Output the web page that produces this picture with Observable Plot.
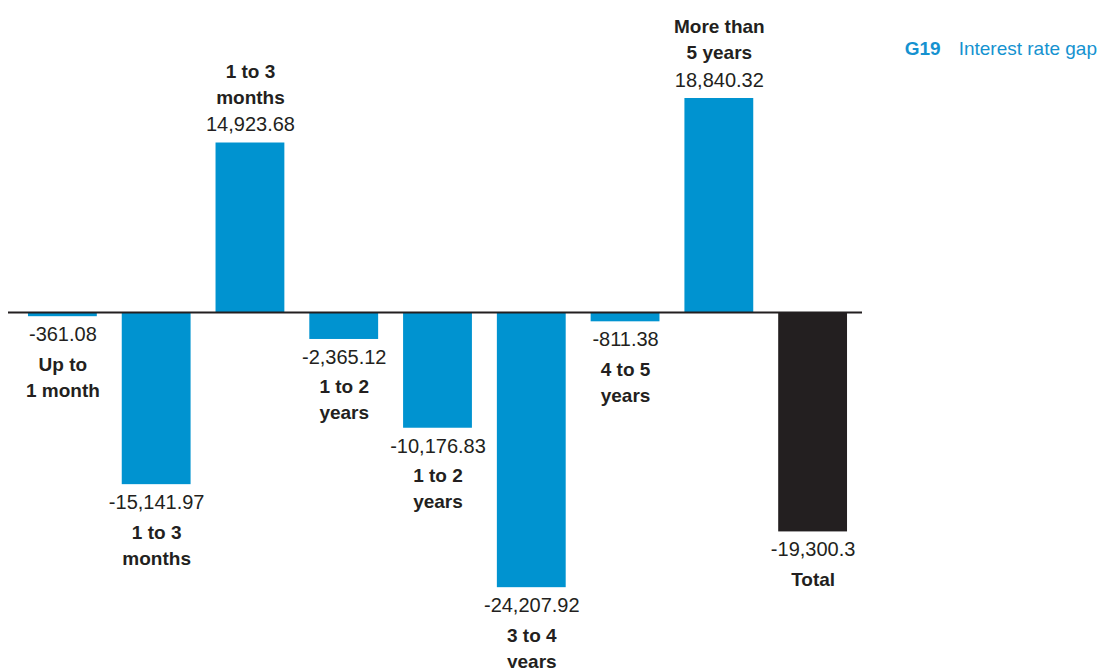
<!DOCTYPE html>
<html>
<head>
<meta charset="utf-8">
<script src="https://cdn.jsdelivr.net/npm/d3@7"></script>
<script src="https://cdn.jsdelivr.net/npm/@observablehq/plot@0.6"></script>
<style>
  html, body { margin: 0; padding: 0; background: #fff; }
  #wrap { position: relative; width: 1099px; height: 668px; }
  #title { position: absolute; right: 2px; top: 38px; font-family: "Liberation Sans", Arial, sans-serif; font-size: 19px; color: #1592d0; white-space: nowrap; }
  #title b { margin-right: 18px; }
</style>
</head>
<body>
<div id="wrap">
  <div id="title"><b>G19</b>Interest rate gap</div>
</div>
<script>
const categories = ["Up to\n1 month", "1 to 3\nmonths", "1 to 3\nmonths", "1 to 2\nyears", "1 to 2\nyears", "3 to 4\nyears", "4 to 5\nyears", "More than\n5 years", "Total"];
const values = [-361.08, -15141.97, 14923.68, -2365.12, -10176.83, -24207.92, -811.38, 18840.32, -19300.3];
const colors = ["#0093d0", "#0093d0", "#0093d0", "#0093d0", "#0093d0", "#0093d0", "#0093d0", "#0093d0", "#231f20"];

const data = values.map((v, i) => ({
  i, v, cat: categories[i], color: colors[i],
  label: v.toLocaleString("en-US", {maximumFractionDigits: 2})
}));
const pos = data.filter(d => d.v >= 0);
const neg = data.filter(d => d.v < 0);
const ink = "#231f20";
const font = "'Liberation Sans', Arial, sans-serif";

const chart = Plot.plot({
  width: 1099,
  height: 668,
  margin: 0,
  x: {domain: d3.range(values.length), range: [15.5, 859.5], paddingInner: 0.266, paddingOuter: 0.133, round: false, axis: null},
  y: {domain: [-30000, 25000], range: [653, 28], axis: null},
  color: {type: "identity"},
  style: {fontFamily: font, background: "transparent"},
  marks: [
    Plot.barY(data, {x: "i", y: "v", fill: "color"}),
    Plot.ruleY([0], {stroke: ink, strokeWidth: 2, insetLeft: 8, insetRight: 237}),
    Plot.text(pos, {x: "i", y: "v", text: "label", dy: -18, fontSize: 20, fill: ink}),
    Plot.text(neg, {x: "i", y: "v", text: "label", dy: 18, fontSize: 20, fill: ink}),
    Plot.text(pos, {x: "i", y: "v", text: "cat", lineAnchor: "bottom", dy: -39, lineHeight: 1.37, fontSize: 19, fontWeight: "bold", fill: ink}),
    Plot.text(neg, {x: "i", y: "v", text: "cat", lineAnchor: "top", dy: 35.5, lineHeight: 1.37, fontSize: 19, fontWeight: "bold", fill: ink})
  ]
});
document.getElementById("wrap").prepend(chart);
chart.style.position = "absolute";
chart.style.left = "0";
chart.style.top = "0";
</script>
</body>
</html>
